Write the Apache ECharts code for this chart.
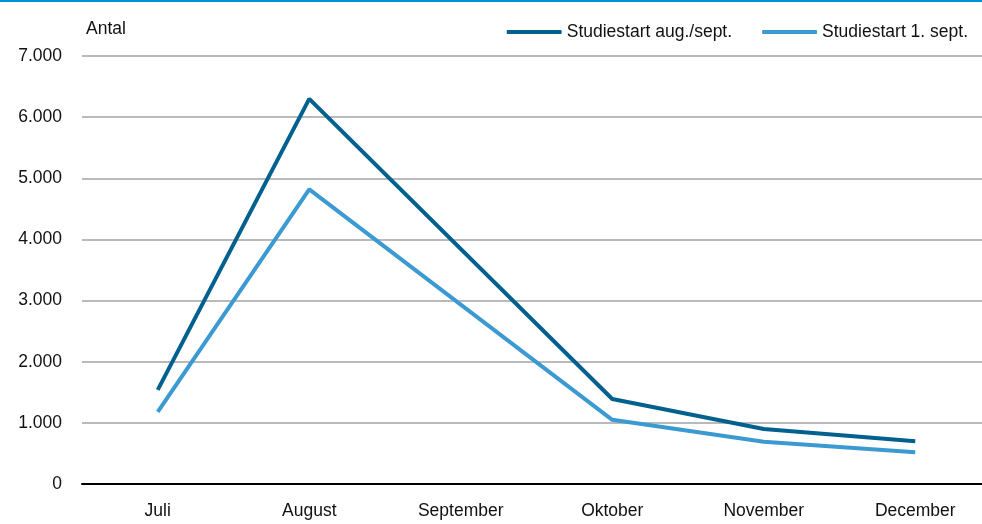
<!DOCTYPE html>
<html>
<head>
    <meta charset="utf-8">
    <title>Studiestart</title>
    <script src="https://cdn.jsdelivr.net/npm/echarts@6/dist/echarts.min.js"></script>
    <style>
        html, body { margin: 0; padding: 0; background: #fff; overflow: hidden; }
        /* chart is a bit wider than the window: the plot runs past the right edge */
        #chart1 { width: 991px; height: 524px; }
    </style>
</head>
<body>
<div id="chart1"></div>
<script>
    // data; September has no point, lines run straight through it
    var months = ['Juli', 'August', 'September', 'Oktober', 'November', 'December'];
    var augSept = [1540, 6300, null, 1390, 900, 700];
    var sept1 = [1180, 4820, null, 1050, 690, 520];
    var seriesNames = ['Studiestart aug./sept.', 'Studiestart 1. sept.'];

    var fnt = "'Liberation Sans', Arial, sans-serif";

    function danish(v) {
        return String(v).replace(/\B(?=(\d{3})+(?!\d))/g, '.');
    }

    var myChart1 = echarts.init(document.getElementById('chart1'));
    myChart1.setOption({
        animation: false,
        graphic: [{
            type: 'rect',
            left: 0, top: 0,
            shape: { width: 991, height: 2 },
            style: { fill: '#0091D5' }
        }],
        legend: {
            top: 18,
            right: 18,
            itemWidth: 55,
            itemHeight: 4,
            itemGap: 30,
            icon: 'roundRect',
            textStyle: { fontFamily: fnt, fontSize: 17.5, color: '#111' },
            data: seriesNames
        },
        grid: { left: 82, right: 0, top: 56, bottom: 40 },
        xAxis: {
            type: 'category',
            data: months,
            boundaryGap: true,
            axisLine: { lineStyle: { color: '#000', width: 2 } },
            axisTick: { show: false },
            axisLabel: { fontFamily: fnt, fontSize: 17.5, color: '#111', margin: 18 }
        },
        yAxis: {
            type: 'value',
            min: 0,
            max: 7000,
            interval: 1000,
            name: 'Antal',
            nameLocation: 'end',
            nameGap: 18,
            nameTextStyle: { fontFamily: fnt, fontSize: 17.5, color: '#111', align: 'left', padding: [0, 0, 0, 4] },
            axisLine: { show: false },
            axisTick: { show: false },
            splitLine: { lineStyle: { color: '#A3A3A3', width: 1.5 } },
            axisLabel: {
                fontFamily: fnt, fontSize: 17.5, color: '#111', margin: 20,
                formatter: danish
            }
        },
        series: [{
            name: seriesNames[0],
            type: 'line',
            data: augSept,
            connectNulls: true,
            symbol: 'none',
            color: '#00618F',
            lineStyle: { width: 4, color: '#00618F' }
        }, {
            name: seriesNames[1],
            type: 'line',
            data: sept1,
            connectNulls: true,
            symbol: 'none',
            color: '#3B9AD1',
            lineStyle: { width: 4, color: '#3B9AD1' }
        }]
    });
</script>
</body>
</html>
